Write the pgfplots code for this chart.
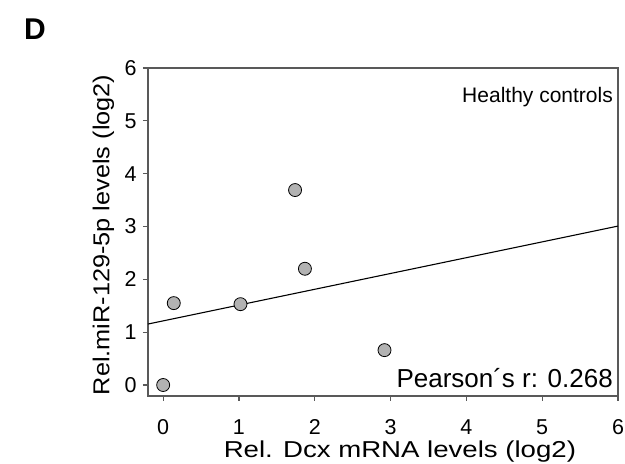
\documentclass[border=0pt]{standalone}
\usepackage{pgfplots}
\pgfplotsset{compat=1.18}
\usepackage{graphicx}
\usepackage{fontspec}
\setmainfont{Liberation Sans}
\begin{document}
\begin{tikzpicture}[x=1pt,y=1pt]
\path[use as bounding box] (0,0) rectangle (625,464);
\node[anchor=base west, inner sep=0, font=\fontsize{30}{30}\selectfont\bfseries] at (24,424) {D};
\begin{axis}[
  at={(148pt,68pt)}, anchor=south west, scale only axis,
  width=470pt, height=328pt,
  xmin=-0.2, xmax=6, ymin=-0.208, ymax=6,
  xtick={0,1,2,3,4,5,6}, ytick={0,1,2,3,4,5,6},
  tick pos=left, tick align=outside, major tick length=5pt,
  axis line style={draw=black!65, line width=1.2pt},
  every tick/.style={draw=black!65, line width=1.2pt},
  /pgf/number format/assume math mode=true,
  ticklabel style={font=\fontsize{21.5}{24}\selectfont},
  xticklabel style={yshift=-15pt},
  yticklabel style={xshift=-3pt},
  label style={font=\fontsize{23}{26}\selectfont},
  xlabel={\scalebox{1.2}[1]{Rel. Dcx mRNA levels (log2)}},
  ylabel={\scalebox{1.1}[1]{Rel.miR-129-5p levels (log2)}},
  xlabel style={at={(axis description cs:0.536,-0.186)}, anchor=base},
  ylabel style={at={(axis description cs:-0.082,0.491)}, anchor=base},
  clip=false,
]
\addplot[black, line width=1.1pt] coordinates {(-0.2,1.154) (6,3.008)};
\addplot[only marks, mark=*, mark size=6.5pt, mark options={fill=black!30, draw=black, line width=0.8pt}] coordinates {
  (0,0) (0.14,1.55) (1.02,1.53) (1.74,3.69) (1.87,2.2) (2.92,0.66)
};
\node[anchor=base east, inner sep=0, font=\fontsize{21}{24}\selectfont] at (rel axis cs:0.9894,0.8933) {Healthy controls};
\node[anchor=base east, inner sep=0, font=\fontsize{26}{28}\selectfont] at (rel axis cs:0.9894,0.0274) {Pearson´s r: 0.268};
\end{axis}
\end{tikzpicture}
\end{document}
